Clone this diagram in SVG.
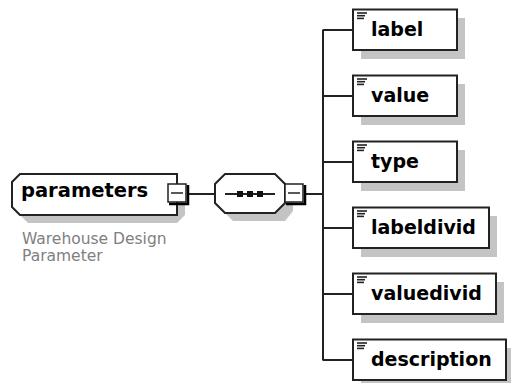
<svg xmlns="http://www.w3.org/2000/svg" width="511" height="383" viewBox="0 0 511 383">
<style>
.box{fill:#fff;stroke:#222;stroke-width:2}
.sh{fill:#c4c4c4}
.ln{stroke:#222;stroke-width:2;fill:none}
.ic{stroke:#222;stroke-width:1.6}
.t{font-family:"DejaVu Sans",Verdana,sans-serif;font-weight:bold;font-size:19px;fill:#000}
.d{font-family:"DejaVu Sans",Verdana,sans-serif;font-size:15.5px;fill:#808080}
</style>
<defs>
<g id="icon"><line class="ic" x1="0" y1="0" x2="10" y2="0"/><line class="ic" x1="0" y1="2.7" x2="8" y2="2.7"/><line class="ic" x1="0" y1="5.4" x2="7" y2="5.4"/></g>
</defs>
<rect width="511" height="383" fill="#fff"/>
<g id="connectors">
<line class="ln" x1="189" y1="194" x2="215" y2="194"/>
<line class="ln" x1="306" y1="194" x2="323" y2="194"/>
<line class="ln" x1="323" y1="29.5" x2="323" y2="360.5"/>
<line class="ln" x1="323" y1="30" x2="353" y2="30"/>
<line class="ln" x1="323" y1="96" x2="353" y2="96"/>
<line class="ln" x1="323" y1="162" x2="353" y2="162"/>
<line class="ln" x1="323" y1="228" x2="353" y2="228"/>
<line class="ln" x1="323" y1="294" x2="353" y2="294"/>
<line class="ln" x1="323" y1="360" x2="353" y2="360"/>
</g>
<g id="parameters">
<polygon class="sh" points="28,182 177,182 185,190 185,215 177,223 28,223 20,215 20,190"/>
<polygon class="box" points="20,174 177,174 177,215 20,215 12,207 12,182"/>
<text class="t" x="21" y="197" style="font-size:19.5px">parameters</text>
<rect x="168" y="184" width="18" height="18" fill="#fff" stroke="#222" stroke-width="1.5"/>
<path d="M188,185 V204 H169" fill="none" stroke="#000" stroke-width="2.5"/>
<line x1="171" y1="193" x2="183" y2="193" stroke="#222" stroke-width="1.5"/>
<text class="d" x="22" y="244">Warehouse Design</text>
<text class="d" x="22" y="261">Parameter</text>
</g>
<g id="sequence">
<polygon class="sh" points="233,182 285,182 293,192 293,211 285,221 233,221 223,211 223,192"/>
<polygon class="box" points="225,174 275,174 285,184 285,203 275,213 225,213 215,203 215,184"/>
<line class="ln" x1="225" y1="194" x2="275" y2="194"/>
<rect x="237" y="191" width="6" height="6" fill="#111"/>
<rect x="247" y="191" width="6" height="6" fill="#111"/>
<rect x="257" y="191" width="6" height="6" fill="#111"/>
<rect x="285" y="184" width="18" height="18" fill="#fff" stroke="#222" stroke-width="1.5"/>
<path d="M305,185 V204 H286" fill="none" stroke="#000" stroke-width="2.5"/>
<line x1="288" y1="193" x2="300" y2="193" stroke="#222" stroke-width="1.5"/>
</g>
<g id="label">
<rect class="sh" x="361" y="18" width="104" height="41"/>
<rect class="box" x="353" y="9.5" width="104" height="40.5"/>
<use href="#icon" x="357" y="13"/>
<text class="t" x="371" y="36">label</text>
</g>
<g id="value">
<rect class="sh" x="361" y="84" width="104" height="41"/>
<rect class="box" x="353" y="75.5" width="104" height="40.5"/>
<use href="#icon" x="357" y="79"/>
<text class="t" x="371" y="102">value</text>
</g>
<g id="type">
<rect class="sh" x="361" y="150" width="104" height="41"/>
<rect class="box" x="353" y="141.5" width="104" height="40.5"/>
<use href="#icon" x="357" y="145"/>
<text class="t" x="371" y="168">type</text>
</g>
<g id="labeldivid">
<rect class="sh" x="361" y="216" width="136" height="41"/>
<rect class="box" x="353" y="207.5" width="136" height="40.5"/>
<use href="#icon" x="357" y="211"/>
<text class="t" x="371" y="234">labeldivid</text>
</g>
<g id="valuedivid">
<rect class="sh" x="361" y="282" width="143" height="41"/>
<rect class="box" x="353" y="273.5" width="143" height="40.5"/>
<use href="#icon" x="357" y="277"/>
<text class="t" x="371" y="300">valuedivid</text>
</g>
<g id="description">
<rect class="sh" x="361" y="348" width="153" height="41"/>
<rect class="box" x="353" y="339.5" width="153" height="40.5"/>
<use href="#icon" x="357" y="343"/>
<text class="t" x="371" y="366">description</text>
</g>
</svg>
